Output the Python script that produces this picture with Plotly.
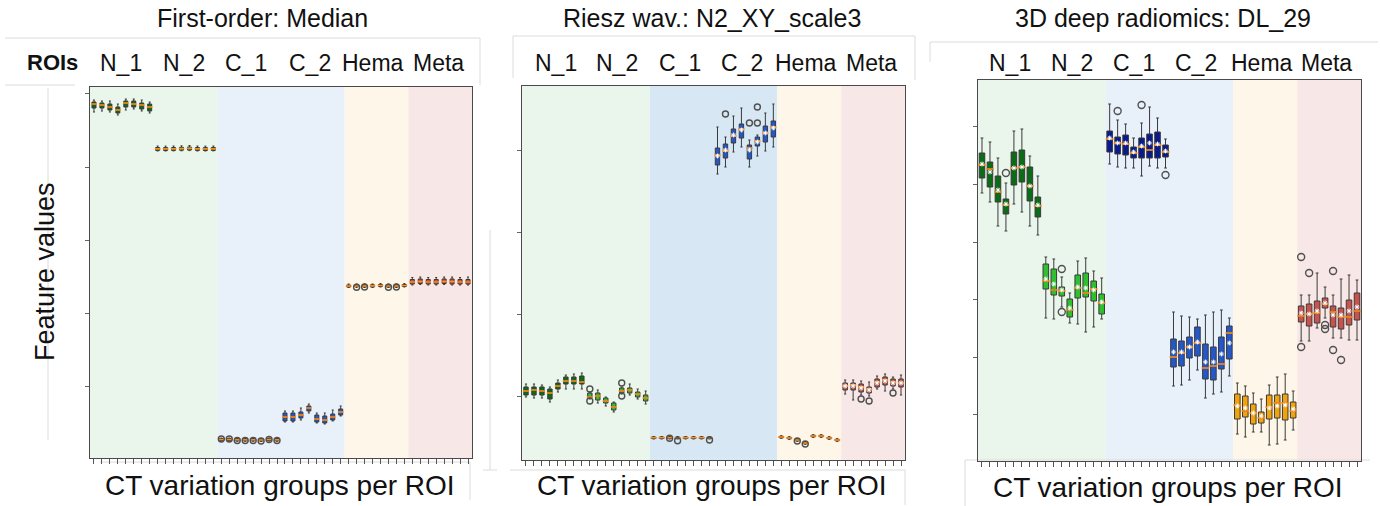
import plotly.graph_objects as go

W, H = 1380, 506

ROIS = ["N_1", "N_2", "C_1", "C_2", "Hema", "Meta"]
GROUPS_PER_ROI = 8
ROI_COLORS = ["#0b6b16", "#2fbf2f", "#0a1a8c", "#2457c8", "#f0a30a", "#c9524c"]

TITLES = ["First-order: Median", "Riesz wav.: N2_XY_scale3", "3D deep radiomics: DL_29"]

# ---------------- Panel 1: First-order Median ----------------
P1_Q1 = [392, 392, 390, 387, 393, 393, 391, 389,
         349.6, 349.5, 349.6, 349.8, 350.0, 349.6, 349.5, 349.6,
         59.5, 59.5, 59.2, 59.2, 59.2, 59.0, 59.5, 59.2,
         79, 79, 82, 89, 78, 77, 80, 85,
         213, 213.3, 213, 213, 213.5, 213, 213, 213.5,
         216, 216.5, 216, 216, 216.5, 216, 216, 216]
P1_MED = [396, 395, 393, 390, 397, 396, 395, 393,
          351.2, 351.1, 351.2, 351.4, 351.7, 351.2, 351.1, 351.2,
          60.5, 60.5, 60.2, 60.2, 60.2, 60.0, 60.5, 60.2,
          83, 83, 85, 92, 81, 80, 83, 88,
          214, 214, 214, 214.2, 214.5, 214, 214, 214.5,
          218, 218.5, 218, 218, 218.5, 218.5, 218, 218]
P1_Q3 = [398, 397, 396, 393, 399, 399, 397, 396,
         352.5, 352.4, 352.5, 352.7, 353.0, 352.5, 352.4, 352.5,
         61.5, 61.5, 61.2, 61.2, 61.2, 61.0, 61.5, 61.2,
         87, 87, 88, 94, 85, 84, 86, 91,
         215, 214.8, 215, 215.2, 215.5, 215, 215, 215.5,
         220.5, 221, 220.5, 220.5, 221, 221, 220.5, 220.5]
P1_LF = [388, 389, 388, 385, 390, 391, 389, 387,
         349.0, 349.0, 349.1, 349.2, 349.4, 349.0, 349.0, 349.1,
         59, 59, 58.7, 58.7, 58.7, 58.5, 59, 58.7,
         78, 78, 80, 87, 77, 76, 79, 84,
         212.5, 212.5, 212.5, 212.5, 213, 212.5, 212.5, 213,
         215, 215.5, 215, 215, 215.5, 215, 215, 215]
P1_UF = [400, 399, 399, 396, 401, 401, 400, 398,
         354.0, 353.9, 354.0, 354.2, 354.5, 354.0, 353.9, 354.0,
         62, 62, 61.7, 61.7, 61.7, 61.5, 62, 61.7,
         89, 89, 92, 96, 87, 87, 90, 94,
         216, 216, 216, 216, 216.5, 216, 216, 216.5,
         222.5, 223, 222.5, 222.5, 223, 223, 222.5, 223]
P1_OUT_X = [16, 17, 18, 19, 20, 21, 22, 23, 33, 34, 37, 38]
P1_OUT_Y = [61, 61, 59.5, 59.5, 59.5, 59, 60.5, 59.5, 212.8, 213, 212.8, 213]
P1_TICKS = [41, 114, 187, 260, 333, 407]

# ---------------- Panel 2: Riesz wavelet ----------------
P2_Q1 = [105, 105, 105, 101, 111, 116, 116, 116,
         102, 100, 97, 90, 107, 107, 103, 99,
         61.5, 61.5, 61.5, 61.5, 61.5, 61.5, 61.5, 61.5,
         335, 342, 357, 362, 341, 354, 358, 363,
         62.2, 61.2, 59.2, 56.2, 63.2, 63.2, 61.2, 59.2,
         110, 110, 108, 107, 113, 115, 114, 113]
P2_MED = [109, 110, 109, 107, 114, 119, 119, 118,
          103, 104, 99, 93, 109, 110, 106, 102,
          62.3, 62.3, 62.3, 62.3, 62.3, 62.3, 62.3, 62.3,
          345, 349, 364, 371, 352, 359, 367, 373,
          63, 62, 60, 57, 64, 64, 62, 60,
          114, 115, 113, 111, 118, 120, 118, 117]
P2_Q3 = [113, 113, 113, 111, 117, 123, 123, 124,
         107, 107, 102, 97, 112, 112, 108, 105,
         63, 63, 63, 63, 63, 63, 63, 63,
         352, 356, 371, 376, 355, 363, 374, 379,
         63.7, 62.7, 60.7, 57.7, 64.7, 64.7, 62.7, 60.7,
         117, 117, 116, 113, 121, 123, 121, 121]
P2_LF = [103, 102, 102, 98, 108, 111, 111, 111,
         101, 97, 94, 88, 106, 105, 101, 96,
         61, 61, 61, 61, 61, 61, 61, 61,
         326, 333, 348, 353, 333, 344, 349, 353,
         61.7, 60.7, 58.7, 55.7, 62.7, 62.7, 60.7, 58.7,
         106, 100, 105, 104, 111, 109, 111, 105]
P2_UF = [116, 116, 115, 113, 120, 125, 126, 127,
         108, 110, 103, 98, 113, 116, 111, 109,
         63.5, 63.5, 63.5, 63.5, 63.5, 63.5, 63.5, 63.5,
         373, 363, 384, 392, 360, 365, 387, 396,
         64.3, 63.3, 61.3, 58.3, 65.3, 65.3, 63.3, 61.3,
         120, 120, 119, 118, 124, 126, 123, 125]
P2_MEAN = [None, None, None, None, None, None, None, None,
           None, None, None, None, None, None, None, None,
           None, None, None, None, None, None, None, None,
           344, 350, 365, 370, 350, 358, 367, 372,
           None, None, None, None, None, None, None, None,
           114, 114, 112, 110, 117, 119, 117, 117]
P2_OUT_X = [8, 8, 12, 12, 18, 19, 23, 25, 28, 29, 29, 34, 35, 42, 43, 46]
P2_OUT_Y = [111, 99, 117, 104, 61.7, 59.3, 60, 386, 377, 393, 377, 59, 56, 101, 99, 107]
P2_TICKS = [104, 186, 268, 350]

# ---------------- Panel 3: 3D deep radiomics ----------------
P3_Q1 = [322, 313, 298, 286, 315, 318, 299, 283,
         211, 205, 204, 183, 202, 203, 199, 186,
         348, 346, 345, 342, 342, 342, 342, 343,
         133, 134, 142, 144, 121, 120, 131, 141,
         81, 83, 76, 77, 81, 82, 80, 82,
         178, 174, 177, 192, 173, 171, 175, 180]
P3_MED = [335, 331, 308, 295, 332, 333, 314, 294,
          219, 210, 209, 190, 212, 207, 211, 197,
          361, 357, 356, 347, 353, 350, 355, 348,
          143, 147, 153, 157, 132, 134, 136, 167,
          95, 89, 87, 82, 93, 97, 97, 89,
          184, 186, 187, 196, 188, 183, 183, 189]
P3_Q3 = [347, 338, 324, 301, 348, 350, 333, 303,
         236, 231, 213, 201, 225, 227, 219, 206,
         369, 363, 365, 353, 362, 366, 368, 355,
         161, 159, 163, 173, 156, 153, 163, 174,
         106, 104, 96, 88, 105, 105, 106, 98,
         194, 196, 199, 202, 194, 192, 200, 207]
P3_LF = [307, 298, 274, 269, 296, 288, 274, 265,
         182, 181, 193, 177, 176, 168, 173, 181,
         336, 333, 332, 332, 324, 334, 332, 332,
         114, 115, 120, 130, 102, 106, 108, 124,
         66, 63, 68, 68, 55, 56, 60, 70,
         159, 159, 172, 182, 162, 162, 160, 160]
P3_UF = [362, 358, 342, 317, 369, 371, 344, 324,
         243, 241, 223, 207, 239, 242, 229, 222,
         396, 380, 376, 362, 377, 393, 382, 361,
         188, 184, 183, 181, 185, 188, 190, 182,
         117, 114, 107, 101, 115, 123, 126, 109,
         205, 205, 227, 213, 205, 221, 225, 220]
P3_MEAN = [336, 328, 310, 296, 332, 333, 314, 295,
           221, 216, 210, 192, 213, 212, 210, 198,
           362, 357, 357, 348, 354, 357, 356, 349,
           148, 148, 153, 158, 138, 138, 146, 157,
           94, 92, 87, 84, 92, 94, 95, 91,
           187, 186, 189, 197, 185, 185, 189, 193]
P3_OUT_X = [3, 10, 10, 17, 20, 23, 40, 40, 41, 43, 43, 44, 44, 45]
P3_OUT_Y = [327, 231, 188, 389, 395, 325, 243, 153, 227, 175, 171, 229, 150, 140]
P3_TICKS = [86, 143, 201, 258, 316, 374]

# ---------------- Layout geometry (pixels) ----------------
PANELS = [
    dict(x0=90, x1=472, y0=87, y1=458, yr=(42, 413), q1=P1_Q1, med=P1_MED, q3=P1_Q3,
         lf=P1_LF, uf=P1_UF, mean=None, ox=P1_OUT_X, oy=P1_OUT_Y, ticks=P1_TICKS,
         bw=0.5, cblue="#e8f0f9", osz=6, title_x=262,
         hdr=[121, 184, 246, 310, 373, 438], xt=(280, 485)),
    dict(x0=522, x1=905, y0=86, y1=460, yr=(40, 414), q1=P2_Q1, med=P2_MED, q3=P2_Q3,
         lf=P2_LF, uf=P2_UF, mean=P2_MEAN, ox=P2_OUT_X, oy=P2_OUT_Y, ticks=P2_TICKS,
         bw=0.55, cblue="#d7e7f3", osz=6, title_x=712,
         hdr=[556, 617, 680, 742, 806, 871], xt=(712, 485)),
    dict(x0=978, x1=1361, y0=80, y1=461, yr=(39, 420), q1=P3_Q1, med=P3_MED, q3=P3_Q3,
         lf=P3_LF, uf=P3_UF, mean=P3_MEAN, ox=P3_OUT_X, oy=P3_OUT_Y, ticks=P3_TICKS,
         bw=0.7, cblue="#e8f0f9", osz=7, title_x=1163,
         hdr=[1010, 1072, 1134, 1196, 1262, 1326], xt=(1168, 487)),
]

BG = ["#eaf6ec", None, "#fef7e9", "#f7e7e6"]


def px(x):
    return x / W


def py(y):
    return 1 - y / H


FONT = "Liberation Sans, Arial, sans-serif"

fig = go.Figure()
shapes = []
annotations = []
layout = {}

n_total = len(ROIS) * GROUPS_PER_ROI
positions = list(range(n_total))

for pi, P in enumerate(PANELS):
    sfx = "" if pi == 0 else str(pi + 1)
    xa, ya = "x" + sfx, "y" + sfx
    px_per_unit = (P["x1"] - P["x0"]) / n_total

    # background ROI bands
    bands = [(-0.5, 15.5, BG[0]), (15.5, 31.5, P["cblue"]), (31.5, 39.5, BG[2]), (39.5, 47.5, BG[3])]
    for a, b, c in bands:
        shapes.append(dict(type="rect", xref=xa, yref=ya + " domain", x0=a, x1=b, y0=0, y1=1,
                           fillcolor=c, line=dict(width=0), layer="below"))

    for ri, roi in enumerate(ROIS):
        sl = slice(ri * GROUPS_PER_ROI, (ri + 1) * GROUPS_PER_ROI)
        xs = positions[sl]
        fig.add_trace(go.Box(
            x=xs, q1=P["q1"][sl], median=P["med"][sl], q3=P["q3"][sl],
            lowerfence=P["lf"][sl], upperfence=P["uf"][sl],
            width=P["bw"], whiskerwidth=0.5, boxpoints=False,
            fillcolor=ROI_COLORS[ri], line=dict(color="#3a3a3a", width=1),
            xaxis=xa, yaxis=ya, showlegend=False, name=roi, hoverinfo="skip"))

    # orange medians
    fig.add_trace(go.Scatter(
        x=positions, y=P["med"], mode="markers", xaxis=xa, yaxis=ya, showlegend=False,
        marker=dict(symbol="line-ew", size=P["bw"] * px_per_unit,
                    line=dict(color="#ff8c1a", width=1.6)), hoverinfo="skip"))

    # white means
    if P["mean"] is not None:
        fig.add_trace(go.Scatter(
            x=positions, y=P["mean"], mode="markers", xaxis=xa, yaxis=ya, showlegend=False,
            marker=dict(symbol="asterisk", size=4,
                        line=dict(color="white", width=1)), hoverinfo="skip"))

    # outliers
    fig.add_trace(go.Scatter(
        x=P["ox"], y=P["oy"], mode="markers", xaxis=xa, yaxis=ya, showlegend=False,
        marker=dict(symbol="circle-open", size=P["osz"], color="#505050",
                    line=dict(width=1.4)), hoverinfo="skip"))

    layout["xaxis" + sfx] = dict(
        domain=[px(P["x0"]), px(P["x1"])], anchor=ya, range=[-0.5, n_total - 0.5],
        tickvals=positions, showticklabels=False, ticks="outside", ticklen=5,
        tickcolor="#555", tickwidth=1, showline=True, mirror=True, linecolor="#4a4a4a",
        linewidth=1, showgrid=False, zeroline=False)
    layout["yaxis" + sfx] = dict(
        domain=[py(P["y1"]), py(P["y0"])], anchor=xa, range=list(P["yr"]),
        tickvals=P["ticks"], showticklabels=False, ticks="outside", ticklen=4,
        tickcolor="#666", showline=True, mirror=True, linecolor="#4a4a4a",
        linewidth=1, showgrid=False, zeroline=False)

    # title
    annotations.append(dict(text=TITLES[pi], x=px(P["title_x"]), y=py(18), xref="paper",
                            yref="paper", showarrow=False, xanchor="center", yanchor="middle",
                            font=dict(family=FONT, size=25, color="#111")))
    # ROI header
    for hx, roi in zip(P["hdr"], ROIS):
        annotations.append(dict(text=roi, x=px(hx), y=py(63), xref="paper", yref="paper",
                                showarrow=False, xanchor="center", yanchor="middle",
                                font=dict(family=FONT, size=23, color="#111")))
    # x title
    annotations.append(dict(text="CT variation groups per ROI", x=px(P["xt"][0]), y=py(P["xt"][1]),
                            xref="paper", yref="paper", showarrow=False, xanchor="center",
                            yanchor="middle", font=dict(family=FONT, size=28, color="#111")))

annotations.append(dict(text="<b>ROIs</b>", x=px(52), y=py(63), xref="paper", yref="paper",
                        showarrow=False, xanchor="center", yanchor="middle",
                        font=dict(family=FONT, size=22, color="#111")))
annotations.append(dict(text="Feature values", x=px(45), y=py(272), xref="paper", yref="paper",
                        showarrow=False, xanchor="center", yanchor="middle", textangle=-90,
                        font=dict(family=FONT, size=27, color="#111")))

# faint frame lines from the composite figure
FR = "#dcdcdc"
frames = [
    (5, 38, 480, 38), (480, 38, 480, 85), (5, 85, 75, 85),
    (513, 36, 915, 36), (513, 36, 513, 78), (915, 36, 915, 80),
    (930, 42, 1378, 42), (930, 42, 930, 62),
    (48, 88, 48, 440),
    (490, 230, 490, 470), (483, 470, 497, 470),
    (100, 462, 470, 462), (470, 462, 470, 500),
    (510, 470, 905, 470), (905, 470, 905, 505),
    (965, 460, 1370, 460), (965, 460, 965, 506),
]
for x0, y0, x1, y1 in frames:
    shapes.append(dict(type="line", xref="paper", yref="paper", x0=px(x0), y0=py(y0),
                       x1=px(x1), y1=py(y1), line=dict(color=FR, width=1), layer="below"))

fig.update_layout(
    width=W, height=H, margin=dict(l=0, r=0, t=0, b=0),
    paper_bgcolor="white", plot_bgcolor="white",
    shapes=shapes, annotations=annotations, boxgap=0, boxgroupgap=0,
    **layout)

fig.write_html("out.html", config={"displayModeBar": False},
               post_script="document.body.style.margin='0';document.body.style.overflow='hidden';")
